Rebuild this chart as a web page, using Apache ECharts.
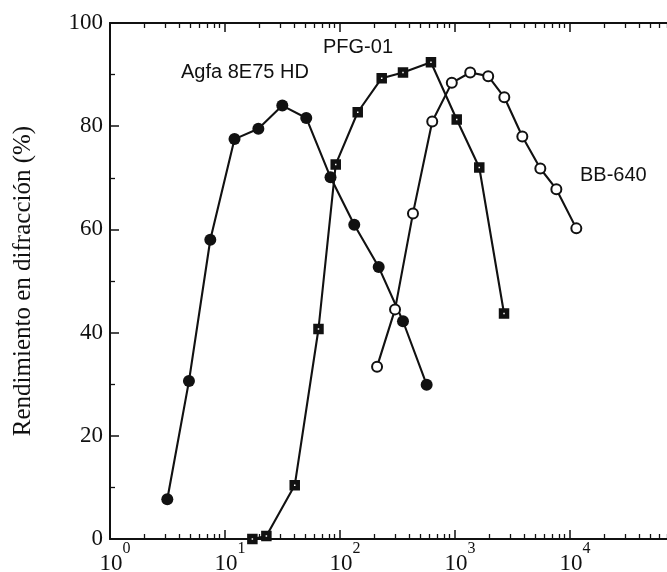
<!DOCTYPE html>
<html>
<head>
<meta charset="utf-8">
<script src="https://cdn.jsdelivr.net/npm/echarts@6/dist/echarts.min.js"></script>
<style>
  html, body { margin: 0; padding: 0; background: #fff; overflow: hidden; }
  #chart { width: 700px; height: 572px; }
</style>
</head>
<body>
<div id="chart"></div>
<script>
// Agfa 8E75 HD (filled circles)
const agfaX = [3.15, 4.86, 7.45, 12.1, 19.5, 31.5, 50.9, 82.7, 133, 217, 353, 567]
const agfaY = [7.7, 30.6, 58.0, 77.5, 79.5, 84.0, 81.6, 70.1, 60.9, 52.7, 42.2, 29.9]

// PFG-01 (squares)
const pfgX = [17.3, 22.9, 40.4, 65.0, 91.8, 142.6, 230.5, 353, 618, 1035, 1626, 2669]
const pfgY = [0, 0.6, 10.4, 40.7, 72.6, 82.7, 89.3, 90.4, 92.4, 81.3, 72.0, 43.7]

// BB-640 (open circles)
const bbX = [210, 301, 431, 634, 938, 1356, 1944, 2684, 3850, 5520, 7610, 11350]
const bbY = [33.4, 44.5, 63.1, 80.9, 88.4, 90.4, 89.7, 85.6, 78.0, 71.8, 67.8, 60.2]

const yTicks = [0, 20, 40, 60, 80, 100]
const seriesNames = ['Agfa 8E75 HD', 'PFG-01', 'BB-640']
const yName = 'Rendimiento en difracción (%)'

const pair = (xs, ys) => xs.map((x, i) => [x, ys[i]])

// minor ticks of the log axis, expressed as log10 positions
const minorPos = []
for (let e = 0; e < 5; e++) {
  for (let k = 2; k <= 9; k++) minorPos.push(e + Math.log10(k))
}

const ink = '#111'
const serif = '"Liberation Serif", "DejaVu Serif", serif'
const sans = '"Liberation Sans", Arial, sans-serif'

const chart = echarts.init(document.getElementById('chart'), null, { renderer: 'canvas' })

const majorLog = (position, showLabel) => ({
  type: 'log',
  logBase: 10,
  min: 1,
  max: 100000,
  position,
  axisLine: { show: true, onZero: false, lineStyle: { color: ink, width: 2 } },
  axisTick: { show: true, inside: true, length: 9, lineStyle: { color: ink, width: 1.5 } },
  splitLine: { show: false },
  axisLabel: {
    show: showLabel,
    margin: 2,
    formatter: (v) => '{p|}{b|10}{s|' + Math.round(Math.log10(v)) + '}',
    rich: {
      p: { width: 10, lineHeight: 34 },
      b: { fontFamily: serif, fontSize: 23, color: ink, lineHeight: 34, verticalAlign: 'bottom' },
      s: { fontFamily: serif, fontSize: 16, color: ink, lineHeight: 18, verticalAlign: 'top' },
    },
  },
})

const minorAxis = (position) => ({
  type: 'value',
  min: 0,
  max: 5,
  position,
  axisLine: { show: false },
  axisLabel: { show: false },
  splitLine: { show: false },
  axisTick: {
    show: true,
    inside: true,
    length: 5,
    customValues: minorPos,
    lineStyle: { color: ink, width: 1.3 },
  },
})

const option = {
  backgroundColor: '#fff',
  animation: false,
  grid: {
    left: 110, right: 15, top: 23, bottom: 33,
    containLabel: false,
    outerBoundsMode: 'none',
  },
  xAxis: [
    majorLog('bottom', true),
    minorAxis('bottom'),
    majorLog('top', false),
    minorAxis('top'),
  ],
  yAxis: {
    type: 'value',
    min: 0,
    max: 100,
    interval: 20,
    name: yName,
    nameLocation: 'middle',
    nameGap: 74,
    nameTextStyle: { fontFamily: serif, fontSize: 25, color: ink },
    axisLine: { show: true, lineStyle: { color: ink, width: 2 } },
    axisTick: { show: true, inside: true, length: 9, lineStyle: { color: ink, width: 1.5 } },
    minorTick: { show: true, splitNumber: 2, length: 5, lineStyle: { color: ink, width: 1.3 } },
    splitLine: { show: false },
    axisLabel: {
      margin: 7,
      fontFamily: serif,
      fontSize: 23,
      color: ink,
      customValues: yTicks,
    },
  },
  series: [
    {
      name: seriesNames[0],
      type: 'line',
      xAxisIndex: 0,
      data: pair(agfaX, agfaY),
      symbol: 'circle',
      symbolSize: 12,
      lineStyle: { color: ink, width: 2.1 },
      itemStyle: { color: ink },
    },
    {
      name: seriesNames[1],
      type: 'line',
      xAxisIndex: 0,
      data: pair(pfgX, pfgY),
      symbol: 'rect',
      symbolSize: 6,
      lineStyle: { color: ink, width: 2.1 },
      itemStyle: { color: '#fff', borderColor: ink, borderWidth: 4.5 },
    },
    {
      name: seriesNames[2],
      type: 'line',
      xAxisIndex: 0,
      data: pair(bbX, bbY),
      symbol: 'circle',
      symbolSize: 10,
      lineStyle: { color: ink, width: 2.1 },
      itemStyle: { color: '#fff', borderColor: ink, borderWidth: 2 },
    },
  ],
  graphic: [
    { type: 'text', left: 181, top: 62, style: { text: seriesNames[0], fontFamily: sans, fontSize: 20, fill: ink } },
    { type: 'text', left: 323, top: 37, style: { text: seriesNames[1], fontFamily: sans, fontSize: 20, fill: ink } },
    { type: 'text', left: 580, top: 165, style: { text: seriesNames[2], fontFamily: sans, fontSize: 20, fill: ink } },
  ],
}

chart.setOption(option)
</script>
</body>
</html>
